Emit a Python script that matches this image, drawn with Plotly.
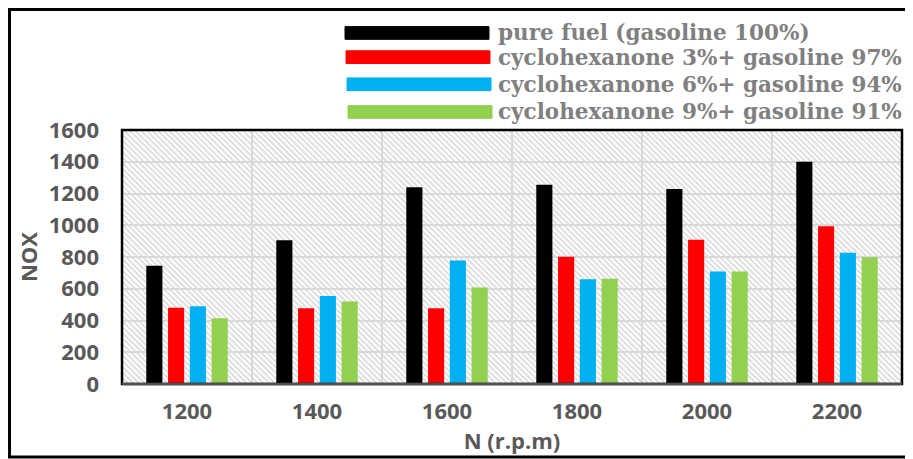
import base64
import plotly.graph_objects as go

categories = ["1200", "1400", "1600", "1800", "2000", "2200"]
pure_fuel = [745, 905, 1240, 1255, 1228, 1400]
cyc3 = [480, 477, 477, 802, 909, 993]
cyc6 = [489, 555, 778, 660, 708, 827]
cyc9 = [414, 520, 608, 663, 708, 798]

series_names = [
    "pure fuel (gasoline 100%)",
    "cyclohexanone 3%+ gasoline 97%",
    "cyclohexanone 6%+ gasoline 94%",
    "cyclohexanone 9%+ gasoline 91%",
]
series_values = [pure_fuel, cyc3, cyc6, cyc9]
colors = ["#000000", "#ff0000", "#00b0f0", "#92d050"]

y_ticks = [0, 200, 400, 600, 800, 1000, 1200, 1400, 1600]

fig = go.Figure()
for name, vals, col in zip(series_names, series_values, colors):
    fig.add_trace(go.Bar(x=categories, y=vals, name=name, marker_color=col,
                         marker_line_width=0, showlegend=False))

# hatched plot background
svg = ("<svg xmlns='http://www.w3.org/2000/svg' width='780' height='254'>"
       "<defs><pattern id='p' width='4' height='4' patternUnits='userSpaceOnUse' "
       "patternTransform='rotate(-45)'><rect width='4' height='4' fill='white'/>"
       "<line x1='1' y1='0' x2='1' y2='4' stroke='#d2d2d2' stroke-width='1.4'/></pattern></defs>"
       "<rect width='780' height='254' fill='url(#p)'/></svg>")
uri = "data:image/svg+xml;base64," + base64.b64encode(svg.encode()).decode()
fig.add_layout_image(source=uri, xref="paper", yref="paper", x=0, y=1, sizex=1, sizey=1,
                     sizing="stretch", layer="below", xanchor="left", yanchor="top")

tick_font = dict(family="Open Sans", size=22, color="#595959", weight="bold")
title_font = dict(family="Open Sans", size=22, color="#595959", weight="bold")

fig.update_layout(
    width=905, height=451,
    margin=dict(l=114, r=11, t=122, b=75),
    paper_bgcolor="white",
    plot_bgcolor="rgba(0,0,0,0)",
    barmode="group",
    bargap=0.33,
    bargroupgap=0.26,
    xaxis=dict(type="category", tickson="boundaries", showgrid=True, gridcolor="#d9d9d9",
               gridwidth=1.5, ticks="", tickfont=tick_font, ticklabelstandoff=12,
               title=dict(text="N (r.p.m)", font=title_font, standoff=4)),
    yaxis=dict(range=[0, 1600], tickvals=y_ticks, showgrid=True, gridcolor="#d9d9d9",
               gridwidth=1.5, ticks="", tickfont=tick_font, zeroline=False, ticklabelstandoff=22,
               title=dict(text="NOX", font=title_font, standoff=4)),
)

# plot-area border
fig.add_shape(type="rect", xref="paper", yref="paper", x0=0, x1=1, y0=0, y1=1,
              line=dict(color="#000000", width=2.5), layer="above")
fig.add_shape(type="line", xref="paper", yref="paper", x0=0, x1=1, y0=0, y1=0,
              line=dict(color="#505050", width=2.5), layer="above")
# outer border
fig.add_shape(type="rect", xref="paper", yref="paper", x0=-0.1442, x1=1.0115, y0=-0.287, y1=1.474,
              line=dict(color="#000000", width=3))

# custom legend
leg_y = [1.382, 1.287, 1.180, 1.071]
leg_x0 = [0.2859, 0.2872, 0.2885, 0.2898]
for name, col, yy, x0 in zip(series_names, colors, leg_y, leg_x0):
    fig.add_shape(type="rect", xref="paper", yref="paper", x0=x0, x1=x0 + 0.1846,
                  y0=yy - 0.025, y1=yy + 0.025, line=dict(color=col, width=1), fillcolor=col)
    fig.add_annotation(text=name, xref="paper", yref="paper", x=0.4795, y=yy, xanchor="left",
                       yanchor="middle", showarrow=False,
                       font=dict(family="DejaVu Serif", size=21.5, color="#808080", weight="bold"))

fig.write_html("out.html")
